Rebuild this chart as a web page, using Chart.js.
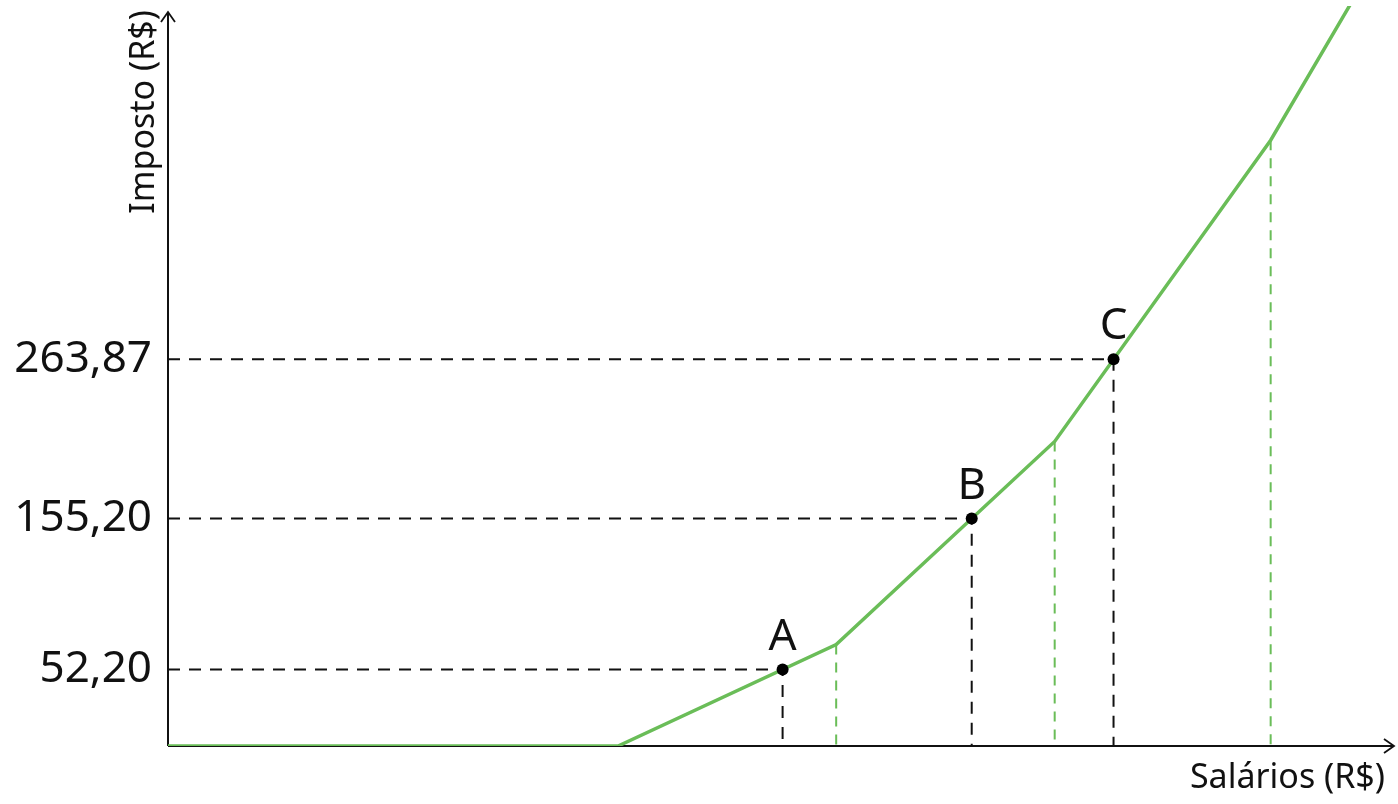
<!DOCTYPE html>
<html>
<head>
<meta charset="utf-8">
<script src="https://cdn.jsdelivr.net/npm/chart.js@4"></script>
<style>
  html, body { margin: 0; padding: 0; background: #fff; }
  #box { width: 1398px; height: 804px; }
</style>
</head>
<body>
<div id="box"><canvas id="grafico"></canvas></div>
<script>
// faixas do imposto (salário x imposto)
const salarios = [0, 1903.98, 2826.65, 3751.05, 4664.68, 5000];
const impostos = [0, 0, 69.20, 207.86, 413.42, 505.61];

// pontos destacados
const pontosNomes = ['A', 'B', 'C'];
const pontosSalario = [2600, 3400, 4000];
const pontosImposto = [52.20, 155.20, 263.87];

// quebras da curva marcadas com tracejado verde
const quebras = [2826.65, 3751.05, 4664.68];

const VERDE = '#6abd58';
const FONTE = '"Noto Sans", "DejaVu Sans", sans-serif';

const xy = (xs, ys) => xs.map((x, i) => ({ x, y: ys[i] }));

const datasets = [];

// tracejados pretos: do eixo y até o ponto e do ponto até o eixo x
pontosSalario.forEach((s, i) => {
  datasets.push({
    data: [{ x: 0, y: pontosImposto[i] }, { x: s, y: pontosImposto[i] }, { x: s, y: 0 }],
    borderColor: '#111',
    borderWidth: 2,
    borderDash: [12, 9],
    pointRadius: 0,
    order: 3
  });
});

// tracejados verdes nas quebras
quebras.forEach(q => {
  const i = salarios.indexOf(q);
  datasets.push({
    data: [{ x: q, y: impostos[i] }, { x: q, y: 0 }],
    borderColor: VERDE,
    borderWidth: 2,
    borderDash: [10, 8],
    pointRadius: 0,
    order: 3
  });
});

// curva do imposto
datasets.push({
  data: xy(salarios, impostos),
  borderColor: VERDE,
  borderWidth: 3.5,
  pointRadius: 0,
  order: 2
});

// pontos A, B, C
datasets.push({
  data: xy(pontosSalario, pontosImposto),
  showLine: false,
  pointRadius: 6,
  pointBackgroundColor: '#000',
  pointBorderColor: '#000',
  pointBorderWidth: 0,
  order: 1
});

function seta(ctx, x, y, dir) {
  ctx.beginPath();
  if (dir === 'up') {
    ctx.moveTo(x - 7, y + 10); ctx.lineTo(x, y); ctx.lineTo(x + 7, y + 10);
  } else {
    ctx.moveTo(x - 10, y - 7); ctx.lineTo(x, y); ctx.lineTo(x - 10, y + 7);
  }
  ctx.stroke();
}

// eixos com setas, rótulos A/B/C e títulos
const extras = {
  id: 'extras',
  beforeDatasetsDraw(chart) {
    const { ctx, scales: { x, y } } = chart;
    const x0 = x.getPixelForValue(0);
    const y0 = y.getPixelForValue(0);
    ctx.save();
    ctx.strokeStyle = '#111';
    ctx.lineWidth = 2;
    ctx.beginPath();
    ctx.moveTo(x0, y0); ctx.lineTo(x0, 12);
    ctx.moveTo(x0, y0); ctx.lineTo(1394, y0);
    ctx.stroke();
    ctx.lineWidth = 1.8;
    seta(ctx, x0, 12, 'up');
    seta(ctx, 1394, y0, 'right');
    ctx.restore();
  },
  afterDatasetsDraw(chart) {
    const { ctx, scales: { x, y } } = chart;
    ctx.save();
    ctx.fillStyle = '#111';
    ctx.font = '44px ' + FONTE;
    ctx.textAlign = 'center';
    ctx.textBaseline = 'alphabetic';
    pontosNomes.forEach((n, i) => {
      const px = x.getPixelForValue(pontosSalario[i]);
      const py = y.getPixelForValue(pontosImposto[i]);
      ctx.fillText(n, px, py - 20);
    });

    ctx.font = '34px ' + FONTE;
    ctx.textAlign = 'right';
    ctx.fillText('Salários (R$)', 1385, 788);

    ctx.translate(154, 10);
    ctx.rotate(-Math.PI / 2);
    ctx.textAlign = 'right';
    ctx.fillText('Imposto (R$)', 0, 0);
    ctx.restore();
  }
};

new Chart(document.getElementById('grafico'), {
  type: 'line',
  data: { datasets },
  plugins: [extras],
  options: {
    responsive: true,
    maintainAspectRatio: false,
    animation: false,
    layout: { padding: 0 },
    plugins: { legend: { display: false }, tooltip: { enabled: false } },
    elements: { line: { borderCapStyle: 'butt', tension: 0 } },
    scales: {
      x: {
        type: 'linear',
        min: 0,
        max: 5178,
        grid: { display: false, drawTicks: false },
        border: { display: false },
        ticks: { display: false },
        afterFit: s => {
          s.height = 58;
          s.paddingLeft = 0; s.paddingRight = 0;
        }
      },
      y: {
        type: 'linear',
        min: 0,
        max: 505,
        grid: { display: false, drawTicks: false },
        border: { display: false },
        afterBuildTicks: s => { s.ticks = pontosImposto.map(v => ({ value: v })); },
        ticks: {
          padding: 16,
          color: '#111',
          font: { size: 44, family: FONTE },
          callback: v => v.toFixed(2).replace('.', ',')
        },
        afterFit: s => {
          s.width = 168;
          s.paddingTop = 0; s.paddingBottom = 0;
        }
      }
    }
  }
});
</script>
</body>
</html>
